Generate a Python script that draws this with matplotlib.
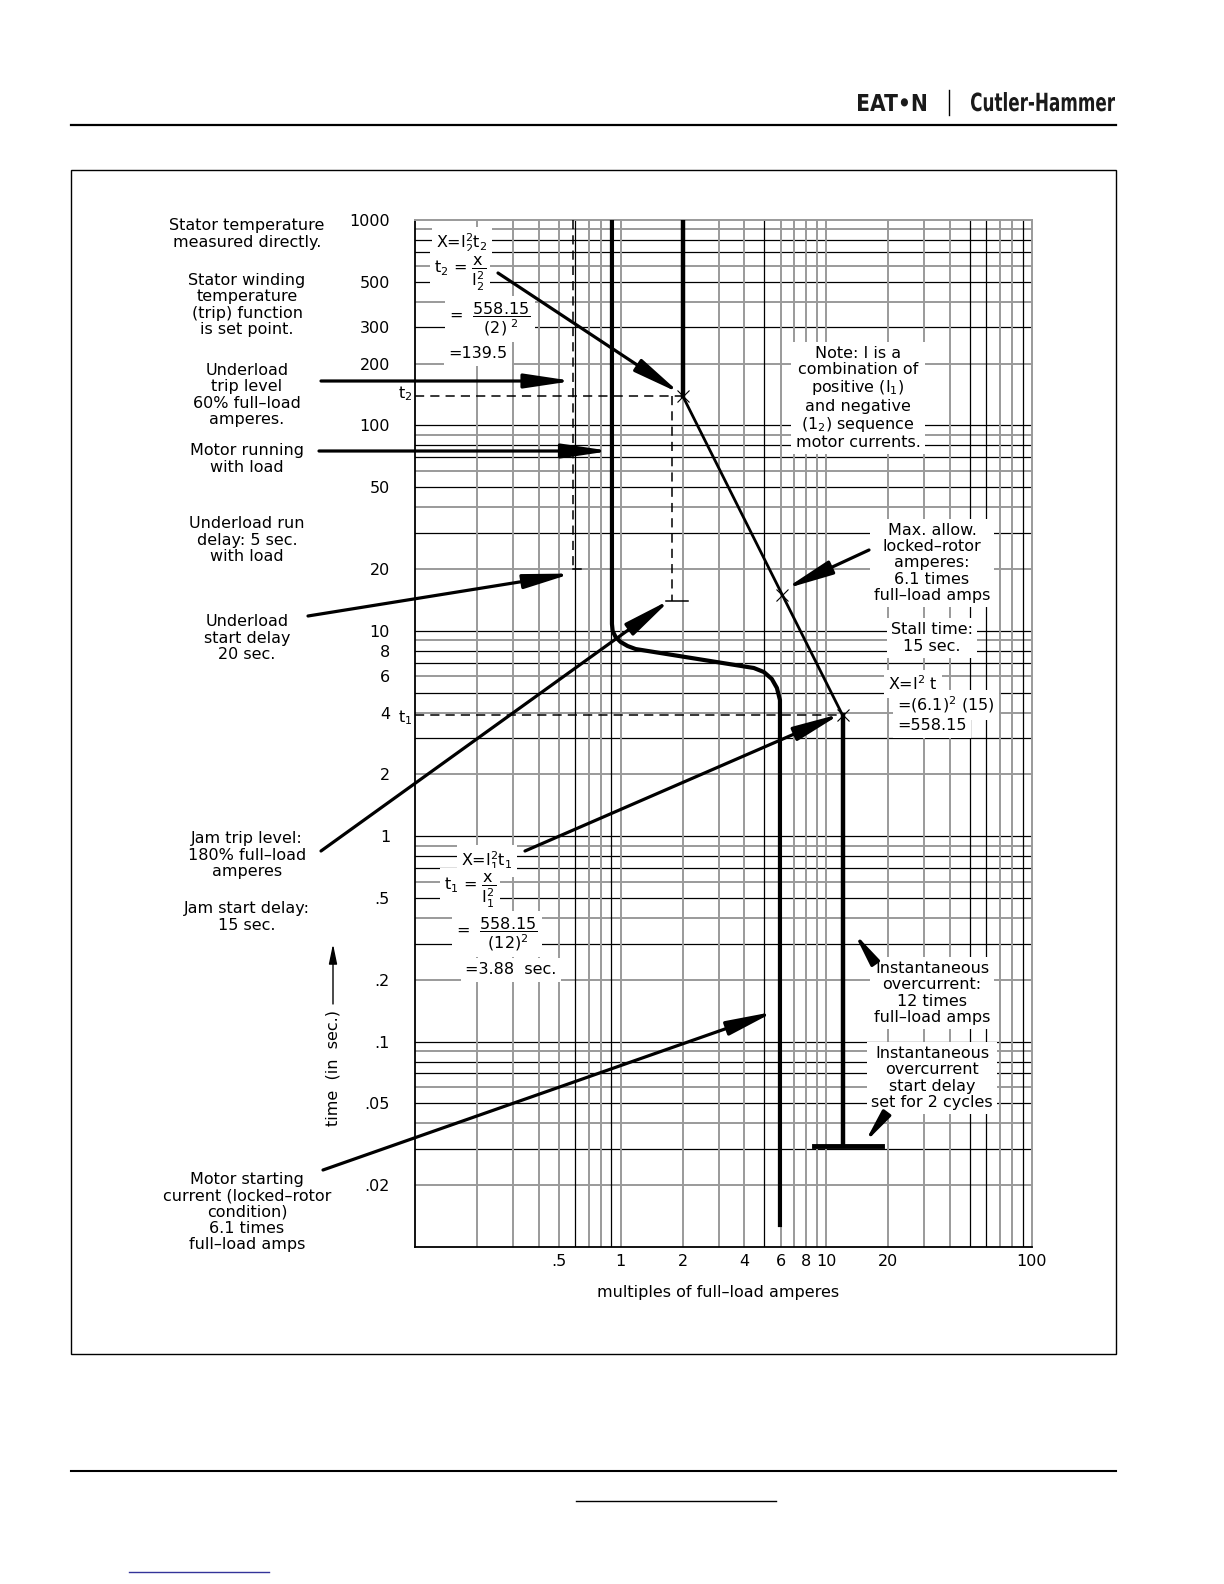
import matplotlib
matplotlib.use("Agg")
import matplotlib.pyplot as plt
from matplotlib.patches import Rectangle, PathPatch
from matplotlib.ticker import NullLocator
from matplotlib.textpath import TextPath
from matplotlib.font_manager import FontProperties
from matplotlib.transforms import Affine2D

# ---- values ----
ytick_vals = [1000, 500, 300, 200, 100, 50, 20, 10, 8, 6, 4, 2, 1, .5, .2, .1, .05, .02]
ytick_lbls = ['1000', '500', '300', '200', '100', '50', '20', '10', '8', '6', '4', '2',
              '1', '.5', '.2', '.1', '.05', '.02']
xtick_vals = [.5, 1, 2, 4, 6, 8, 10, 20, 100]
xtick_lbls = ['.5', '1', '2', '4', '6', '8', '10', '20', '100']

# motor starting current curve (multiples of FLA vs seconds)
motor_x = [0.907, 0.907, 0.914, 0.945, 1.0, 1.081, 1.183, 4.44, 4.97, 5.43, 5.75, 5.95, 5.95]
motor_t = [1000, 10.8, 9.98, 9.33, 8.82, 8.43, 8.15, 6.59, 6.30, 5.83, 5.27, 4.60, 0.0125]

# thermal (I^2 t) trip curve
therm_x = [2, 2, 6.1, 12, 12]
therm_t = [1000, 139.5, 15, 3.88, 0.031]

# instantaneous overcurrent delay bar
inst_bar_x = [8.7, 18.6]
inst_delay = 0.031

underload_level = 0.585
underload_delay = 20
underload_tick = [0.585, 0.645]
jam_level = 1.78
jam_delay = 14
jam_tick = [1.66, 2.12]
t2 = 139.5
t1 = 3.88

W, H = 1224, 1584
fig = plt.figure(figsize=(W / 100, H / 100), dpi=100)

# overlay in page pixels for everything around the chart
ov = fig.add_axes([0, 0, 1, 1], zorder=0)
ov.set_xlim(0, W)
ov.set_ylim(H, 0)
ov.axis('off')

L, R, T, B = 415, 1032, 220, 1247
ax = fig.add_axes([L / W, 1 - B / H, (R - L) / W, (B - T) / H], zorder=1)
ax.set_xscale('log')
ax.set_yscale('log')
ax.set_xlim(0.1, 100)
ax.set_ylim(0.01, 1000)

GRAY = '#9a9a9a'
# log paper grid (mixed black / gray lines like the CAD drawing)
for e in range(-2, 3):
    for m in range(1, 10):
        v = m * 10.0 ** e
        if v <= 0.0101 or v >= 999:
            continue
        if m in (1, 3, 5, 7, 8):
            ax.axhline(v, color='black', lw=0.9, zorder=1)
        else:
            ax.axhline(v, color=GRAY, lw=1.4, zorder=1)
black_v = {(6, -1), (9, -1), (5, 0), (5, 1), (6, 1), (9, 1)}
for e in range(-1, 2):
    for m in range(1, 10):
        v = m * 10.0 ** e
        if v <= 0.101:
            continue
        if (m, e) in black_v:
            ax.axvline(v, color='black', lw=0.9, zorder=1)
        else:
            ax.axvline(v, color=GRAY, lw=1.4, zorder=1)

for s in ['left', 'bottom']:
    ax.spines[s].set_color('black')
    ax.spines[s].set_linewidth(1.3)
for s in ['top', 'right']:
    ax.spines[s].set_color(GRAY)
    ax.spines[s].set_linewidth(1.4)

ax.set_yticks(ytick_vals, ytick_lbls)
ax.set_xticks(xtick_vals, xtick_lbls)
ax.xaxis.set_minor_locator(NullLocator())
ax.yaxis.set_minor_locator(NullLocator())
ax.tick_params(length=0, labelsize=11.5)
ax.tick_params(axis='y', pad=18)
ax.tick_params(axis='x', pad=5)

# curves
ax.plot(motor_x, motor_t, color='black', lw=3, zorder=4, solid_capstyle='butt',
        solid_joinstyle='round')
ax.plot(therm_x[:2], therm_t[:2], color='black', lw=3.2, zorder=4)
ax.plot(therm_x[1:4], therm_t[1:4], color='black', lw=2, zorder=4)
ax.plot(therm_x[3:], therm_t[3:], color='black', lw=3.2, zorder=4)
ax.plot(inst_bar_x, [inst_delay, inst_delay], color='black', lw=3.5, zorder=4)
ax.plot(therm_x[1:4], therm_t[1:4], 'x', color='black', ms=9, mew=0.8, zorder=5)

# dashed guides
dash = dict(color='black', lw=1.1, dashes=(6, 4), zorder=4)
ax.plot([underload_level, underload_level], [1000, underload_delay], **dash)
ax.plot(underload_tick, [underload_delay, underload_delay], color='black', lw=1.1, zorder=4)
ax.plot([0.1, therm_x[1]], [t2, t2], **dash)
ax.plot([jam_level, jam_level], [t2, jam_delay], **dash)
ax.plot(jam_tick, [jam_delay, jam_delay], color='black', lw=1.1, zorder=4)
ax.plot([0.1, therm_x[3]], [t1, t1], **dash)

P = ov.transData
FS = 11.5


def arrow(xy, start, coords='data', ms=18):
    ax.annotate('', xy=xy, xycoords=coords, xytext=start, textcoords=P,
                arrowprops=dict(arrowstyle='-|>,head_length=1.6,head_width=0.24', lw=2.3,
                                color='black', shrinkA=0, shrinkB=0, mutation_scale=ms),
                annotation_clip=False, zorder=6)


arrow((underload_level, 381), (321, 381), coords=('data', P))
arrow((0.89, 451), (319, 451), coords=('data', P))
arrow((0.58, 19), (308, 616))
arrow((1.75, 14.2), (321, 851))
arrow((11.8, 3.95), (525, 851))
arrow((1.95, 143), (498, 273))
arrow((6.3, 16), (869, 550))
arrow((5.6, 0.14), (323, 1170))
arrow((13.6, 0.34), (873, 960), ms=12)
arrow((15.3, 0.032), (883, 1118), ms=12)

# labels on the left
left_labels = [
    (234, "Stator temperature\nmeasured directly."),
    (305, "Stator winding\ntemperature\n(trip) function\nis set point."),
    (395, "Underload\ntrip level\n60% full–load\namperes."),
    (459, "Motor running\nwith load"),
    (540, "Underload run\ndelay: 5 sec.\nwith load"),
    (638, "Underload\nstart delay\n20 sec."),
    (855, "Jam trip level:\n180% full–load\namperes"),
    (917, "Jam start delay:\n15 sec."),
    (1212, "Motor starting\ncurrent (locked–rotor\ncondition)\n6.1 times\nfull–load amps"),
]
for y, s in left_labels:
    ov.text(247, y, s, ha='center', va='center', fontsize=FS, linespacing=1.1)

ov.text(405, 394, "t$_2$", ha='center', va='center', fontsize=FS)
ov.text(405, 718, "t$_1$", ha='center', va='center', fontsize=FS)
ov.text(718, 1293, "multiples of full–load amperes", ha='center', va='center', fontsize=FS)
ov.text(333, 1068, "time  (in  sec.)", ha='center', va='center', fontsize=FS, rotation=90)
ov.annotate('', xy=(333, 944), xytext=(333, 1004),
            arrowprops=dict(arrowstyle='-|>,head_length=1.2,head_width=0.25', lw=1,
                            color='black', mutation_scale=10, shrinkA=0, shrinkB=0))

# boxed texts inside the grid
bb = dict(facecolor='white', edgecolor='none', pad=3)


def boxtext(x, y, s, ha='center', fs=FS):
    ax.text(x, y, s, transform=P, ha=ha, va='center', fontsize=fs, linespacing=1.1,
            bbox=bb, zorder=3)


boxtext(462, 243, r"X=I$_2^2$t$_2$")
boxtext(460, 274, r"t$_2$ = $\dfrac{\mathrm{x}}{\mathrm{I_2^2}}$")
boxtext(490, 319, r"=  $\dfrac{\mathrm{558.15}}{\mathrm{(2)^{\ 2}}}$")
boxtext(478, 354, "=139.5")

boxtext(858, 398, "Note: I is a\ncombination of\npositive (I$_1$)\nand negative\n(1$_2$) sequence\nmotor currents.")
boxtext(932, 563, "Max. allow.\nlocked–rotor\namperes:\n6.1 times\nfull–load amps")
boxtext(932, 638, "Stall time:\n15 sec.")
boxtext(888, 684, r"X=I$^2$ t", ha='left')
boxtext(897, 705, r"=(6.1)$^2$ (15)", ha='left')
boxtext(897, 726, "=558.15", ha='left')

boxtext(487, 861, r"X=I$_1^2$t$_1$")
boxtext(470, 891, r"t$_1$ = $\dfrac{\mathrm{x}}{\mathrm{I_1^2}}$")
boxtext(497, 934, r"=  $\dfrac{\mathrm{558.15}}{\mathrm{(12)^2}}$")
boxtext(511, 970, "=3.88  sec.")

boxtext(932, 993, "Instantaneous\novercurrent:\n12 times\nfull–load amps")
boxtext(932, 1078, "Instantaneous\novercurrent\nstart delay\nset for 2 cycles")


# page header: condensed bold words squeezed into their boxes
def fit_text(s, x0, x1, base, cap):
    tp = TextPath((0, 0), s, size=1, prop=FontProperties(family='DejaVu Sans', weight='bold'))
    ext = tp.get_extents()
    sx = (x1 - x0) / ext.width
    sy = cap / ext.y1
    tr = Affine2D().translate(-ext.x0, 0).scale(sx, -sy).translate(x0, base)
    ov.add_patch(PathPatch(tr.transform_path(tp), facecolor='#1a1a1a', lw=0))


fit_text("EAT•N", 858, 926, 111, 17)
fit_text("Cutler-Hammer", 971, 1115, 111, 19)
ov.plot([949, 949], [90, 115], color='black', lw=1)
ov.plot([71, 1116], [125, 125], color='black', lw=1.6)
ov.add_patch(Rectangle((71, 170), 1045, 1184, fill=False, lw=1.0, edgecolor='black'))
ov.plot([71, 1116], [1471, 1471], color='black', lw=1.5)
ov.plot([576, 776], [1501, 1501], color='black', lw=1)
ov.plot([129, 269], [1572, 1572], color='#333399', lw=1)

fig.savefig('out.png', dpi=100)
